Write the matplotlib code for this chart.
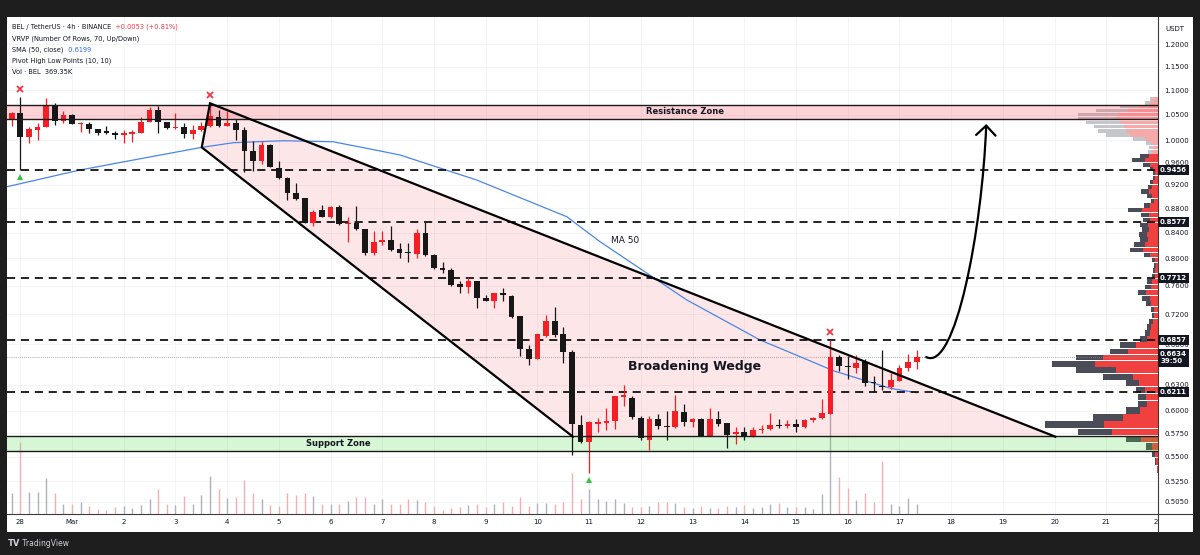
import numpy as np
import pandas as pd
import matplotlib
matplotlib.use("Agg")
import matplotlib.pyplot as plt
import matplotlib.ticker as mticker
from matplotlib import transforms
from matplotlib.patches import Rectangle, Polygon, FancyArrowPatch
from matplotlib.path import Path

W, H = 1200, 555

# BEL/USDT 4h candles, first bar opens 2025-02-27 20:00 (red = up, black = down)
opens = [1.040, 1.053, 1.007, 1.020, 1.026, 1.069, 1.037, 1.049, 1.031, 1.032,
         1.021, 1.016, 1.015, 1.011, 1.012, 1.015, 1.036, 1.059, 1.036, 1.023,
         1.026, 1.012, 1.019, 1.028, 1.045, 1.028, 1.034, 1.019, 0.981, 0.9624,
         0.9913, 0.950, 0.931, 0.905, 0.897, 0.855, 0.876, 0.865, 0.882, 0.854,
         0.855, 0.846, 0.808, 0.826, 0.829, 0.814, 0.809, 0.806, 0.840, 0.805,
         0.785, 0.782, 0.762, 0.758, 0.766, 0.743, 0.738, 0.750, 0.745, 0.717,
         0.674, 0.661, 0.691, 0.711, 0.694, 0.670, 0.584, 0.5657, 0.585, 0.586,
         0.588, 0.616, 0.614, 0.592, 0.568, 0.591, 0.583, 0.582, 0.598, 0.587,
         0.591, 0.572, 0.591, 0.586, 0.574, 0.576, 0.572, 0.578, 0.579, 0.584,
         0.583, 0.585, 0.582, 0.589, 0.592, 0.5965, 0.6645, 0.652, 0.650, 0.658,
         0.633, 0.629, 0.627, 0.635, 0.650, 0.658]
highs = [1.056, 1.0855, 1.026, 1.033, 1.083, 1.073, 1.058, 1.051, 1.036, 1.036,
         1.022, 1.028, 1.018, 1.020, 1.020, 1.045, 1.065, 1.067, 1.036, 1.054,
         1.033, 1.030, 1.036, 1.072, 1.059, 1.058, 1.041, 1.026, 0.998, 0.998,
         0.993, 0.962, 0.934, 0.922, 0.897, 0.877, 0.885, 0.883, 0.885, 0.866,
         0.884, 0.846, 0.842, 0.842, 0.850, 0.823, 0.823, 0.845, 0.8577, 0.806,
         0.795, 0.786, 0.766, 0.773, 0.767, 0.746, 0.750, 0.756, 0.746, 0.717,
         0.679, 0.694, 0.719, 0.730, 0.703, 0.673, 0.595, 0.588, 0.592, 0.603,
         0.6165, 0.630, 0.617, 0.594, 0.594, 0.596, 0.599, 0.618, 0.608, 0.592,
         0.592, 0.6025, 0.599, 0.586, 0.582, 0.582, 0.582, 0.584, 0.597, 0.591,
         0.589, 0.590, 0.590, 0.593, 0.613, 0.6857, 0.666, 0.665, 0.666, 0.662,
         0.640, 0.673, 0.644, 0.654, 0.668, 0.673]
lows = [1.028, 0.9456, 0.9945, 1.000, 1.025, 1.030, 1.033, 1.031, 1.017, 1.014,
        1.010, 1.012, 1.002, 0.9945, 0.997, 1.014, 1.035, 1.015, 1.022, 1.022,
        1.004, 1.002, 1.018, 1.026, 1.025, 1.027, 1.000, 0.9426, 0.943, 0.956,
        0.951, 0.930, 0.893, 0.8935, 0.855, 0.850, 0.865, 0.863, 0.853, 0.826,
        0.844, 0.805, 0.805, 0.820, 0.812, 0.800, 0.795, 0.800, 0.804, 0.784,
        0.778, 0.760, 0.750, 0.750, 0.728, 0.738, 0.729, 0.738, 0.715, 0.665,
        0.654, 0.661, 0.690, 0.690, 0.656, 0.552, 0.5645, 0.533, 0.576, 0.578,
        0.579, 0.605, 0.590, 0.567, 0.557, 0.579, 0.568, 0.581, 0.583, 0.582,
        0.572, 0.572, 0.583, 0.559, 0.563, 0.567, 0.571, 0.575, 0.578, 0.580,
        0.580, 0.5765, 0.581, 0.587, 0.590, 0.5965, 0.6465, 0.637, 0.644, 0.629,
        0.622, 0.624, 0.625, 0.634, 0.646, 0.649]
closes = [1.053, 1.007, 1.021, 1.025, 1.069, 1.037, 1.049, 1.032, 1.033, 1.021,
          1.015, 1.015, 1.011, 1.013, 1.017, 1.036, 1.059, 1.036, 1.023, 1.026,
          1.012, 1.020, 1.028, 1.047, 1.028, 1.033, 1.019, 0.9807, 0.9624, 0.9913,
          0.9515, 0.931, 0.905, 0.895, 0.855, 0.874, 0.866, 0.882, 0.854, 0.856,
          0.846, 0.808, 0.826, 0.828, 0.813, 0.808, 0.808, 0.839, 0.805, 0.785,
          0.782, 0.761, 0.758, 0.766, 0.743, 0.738, 0.750, 0.747, 0.716, 0.674,
          0.661, 0.694, 0.711, 0.692, 0.670, 0.585, 0.5653, 0.587, 0.587, 0.588,
          0.6165, 0.618, 0.593, 0.570, 0.591, 0.583, 0.582, 0.599, 0.587, 0.591,
          0.572, 0.590, 0.585, 0.573, 0.576, 0.572, 0.578, 0.579, 0.5835, 0.583,
          0.5845, 0.582, 0.589, 0.592, 0.597, 0.6645, 0.653, 0.651, 0.657, 0.632,
          0.632, 0.627, 0.636, 0.650, 0.658, 0.6634]
# volume in thousands of BEL
volumes_k = [786, 2657, 823, 815, 1317, 790, 370, 365, 432, 295,
             185, 148, 269, 300, 232, 332, 542, 911, 358, 350,
             664, 369, 690, 1413, 905, 579, 616, 1255, 764, 554,
             332, 295, 786, 701, 764, 664, 358, 369, 372, 480,
             638, 645, 369, 554, 358, 352, 542, 517, 443, 306,
             148, 221, 269, 332, 369, 269, 369, 443, 306, 638,
             295, 395, 395, 369, 443, 1502, 565, 911, 554, 491,
             542, 417, 247, 247, 295, 443, 443, 395, 269, 210,
             295, 210, 210, 306, 269, 332, 210, 269, 369, 395,
             247, 247, 247, 173, 738, 6421, 1376, 970, 517, 764,
             443, 1956, 358, 295, 579, 369.35]

# SMA(50, close) (days since Feb 28, price)
ma_days = [-0.257, 1.155, 2.186, 3.509, 4.120, 5.087, 6.048, 6.700, 7.344, 8.828,
           10.569, 11.213, 12.890, 14.308, 15.081, 15.720, 16.300, 16.822, 17.339]
ma_prices = [0.9162, 0.9456, 0.9636, 0.9870, 0.9957, 0.9994, 0.9975, 0.9852, 0.9728, 0.9278,
             0.8656, 0.8256, 0.7395, 0.6856, 0.6643, 0.6470, 0.6357, 0.6258, 0.6206]

# visible range volume profile, 70 rows, bottom to top (up = red, down = grey)
vp_low, vp_high = 0.533, 1.0855
vp_up = [1, 2, 3, 6, 17, 46, 54, 35, 18, 11, 12, 13, 19, 25, 42, 63, 55, 30, 22, 11,
         8, 7, 5, 4, 4, 7, 8, 12, 7, 6, 3, 3, 2, 3, 8, 15, 13, 10, 11, 9,
         10, 8, 9, 16, 8, 4, 6, 9, 6, 5, 3, 3, 5, 8, 13, 9, 6, 5, 7, 13,
         28, 32, 34, 38, 42, 40, 30, 20, 8, 5]
vp_down = [0, 1, 3, 6, 15, 34, 59, 30, 14, 9, 8, 9, 13, 30, 40, 43, 27, 18, 16, 7,
           5, 4, 4, 2, 3, 5, 8, 8, 6, 5, 3, 2, 2, 3, 6, 13, 11, 8, 8, 7,
           8, 7, 8, 14, 6, 3, 5, 8, 4, 3, 2, 2, 3, 7, 13, 9, 4, 4, 5, 12,
           24, 28, 30, 34, 38, 40, 32, 18, 5, 3]
value_area_rows = 56

# drawings
levels = [0.9456, 0.8577, 0.7712, 0.6857, 0.6211]
last_price = 0.6634
resistance = (1.0407, 1.0700)
support = (0.5558, 0.5715)
wedge_days = [20.013, 3.669, 3.509, 10.685]
wedge_prices = [0.5711, 1.0727, 0.9870, 0.5711]
arrow_days = [17.518, 18.079, 18.601, 18.679]
arrow_prices = [0.6639, 0.6453, 0.8441, 1.0315]
pivot_high_idx = [1, 23, 95]
pivot_low_idx = [1, 67]

price_ticks = [1.2, 1.15, 1.1, 1.05, 1.0, 0.96, 0.92, 0.88, 0.84, 0.80, 0.76, 0.72,
               0.68, 0.63, 0.60, 0.575, 0.55, 0.525, 0.505]
day_ticks = list(range(0, 22))
day_labels = ["28", "Mar"] + [str(d) for d in range(2, 22)]

opens, highs, lows, closes = map(np.array, (opens, highs, lows, closes))
volumes_k = np.array(volumes_k)
times = pd.date_range("2025-02-27 20:00", periods=len(opens), freq="4h")
x = ((times - pd.Timestamp("2025-02-28")) / pd.Timedelta(days=1)).to_numpy()

UP, DOWN = "#f31f24", "#171717"
INK = "#131722"


def fx(px):
    return px / W


def fy(py):
    return 1 - py / H


fig = plt.figure(figsize=(12, 5.55), dpi=100, facecolor="#1e1e1e")
fig.patches.append(Rectangle((fx(7), fy(532)), fx(1193) - fx(7), fy(17) - fy(532),
                             transform=fig.transFigure, facecolor="white",
                             edgecolor="none", zorder=-5))

ax = fig.add_axes([fx(7), fy(514), fx(1158) - fx(7), fy(17) - fy(514)])
ax.set_zorder(1)
ax.set_yscale("log")
ax.set_xlim(-0.257, 22.0)
ax.set_ylim(0.4934, 1.2629)
for s in ("top", "left"):
    ax.spines[s].set_visible(False)
for s in ("right", "bottom"):
    ax.spines[s].set_color("#3a3a3a")
    ax.spines[s].set_linewidth(0.8)

ax.yaxis.tick_right()
ax.yaxis.set_minor_locator(mticker.NullLocator())
ax.set_yticks(price_ticks)
ax.set_yticklabels([f"{p:.4f}" for p in price_ticks])
ax.set_xticks(day_ticks)
ax.set_xticklabels(day_labels)
ax.tick_params(axis="y", length=0, pad=4.5, labelsize=5, labelcolor=INK)
ax.tick_params(axis="x", length=0, pad=3.5, labelsize=5, labelcolor=INK)
ax.grid(color="#f1f2f5", lw=0.6, zorder=0.5)
ax.set_axisbelow(True)

x_data_y_axes = transforms.blended_transform_factory(ax.transData, ax.transAxes)
x_axes_y_data = transforms.blended_transform_factory(ax.transAxes, ax.transData)

# volume histogram at the bottom
vol_top = 18340
up = closes >= opens
vcols = np.where(up, "#aeb1b8", "#f5adb1")
ax.vlines(x, 0, volumes_k / vol_top, transform=x_data_y_axes, colors=vcols, lw=1.0, zorder=1)

# wedge fill
ax.add_patch(Polygon(np.column_stack([wedge_days, wedge_prices]), closed=True,
                     facecolor="#f23645", alpha=0.12, edgecolor="none", zorder=1.5))

# volume profile
edges = np.linspace(vp_low, vp_high, len(vp_up) + 1)
totals = np.array(vp_up) + np.array(vp_down)
scale = 0.0982 / totals.max()
for k in range(len(vp_up)):
    lo, hi = edges[k], edges[k + 1]
    h = hi - lo
    in_va = k < value_area_rows
    up_w, dn_w = vp_up[k] * scale, vp_down[k] * scale
    ax.add_patch(Rectangle((1 - up_w, lo + 0.06 * h), up_w, 0.88 * h, transform=x_axes_y_data,
                           facecolor="#f0403f" if in_va else "#f6a9a9", edgecolor="none", zorder=2))
    ax.add_patch(Rectangle((1 - up_w - dn_w, lo + 0.06 * h), dn_w, 0.88 * h, transform=x_axes_y_data,
                           facecolor="#4a4d57" if in_va else "#c4c6cc", edgecolor="none", zorder=2))

# zones
ax.axhspan(*resistance, facecolor="#f23645", alpha=0.22, lw=0, zorder=2.5)
ax.axhspan(*support, facecolor=(0.30, 0.85, 0.25), alpha=0.22, lw=0, zorder=2.5)
for p in resistance + support:
    ax.axhline(p, color="#1a1a1a", lw=1.0, zorder=5)

# SMA 50
ax.plot(ma_days, ma_prices, color="#4a86e8", lw=0.9, zorder=3)

# horizontal levels
for lv in levels:
    ax.axhline(lv, color="#111111", lw=1.3, ls=(0, (4.5, 3.2)), zorder=3.5)
ax.axhline(last_price, color="#8a8d96", lw=0.6, ls=(0, (1, 1.5)), zorder=3)

# candles
cols = np.where(up, UP, DOWN)
body_lo = np.minimum(opens, closes)
body_hi = np.maximum(np.maximum(opens, closes), body_lo * 1.0022)
ax.vlines(x, lows, highs, colors=cols, lw=0.9, zorder=4)
ax.bar(x, body_hi - body_lo, bottom=body_lo, width=0.11, color=cols, lw=0, zorder=4.1)

# wedge outline
ax.plot(wedge_days, wedge_prices, color="black", lw=1.6, zorder=5, solid_joinstyle="miter")

# pivot points
hi_off = transforms.offset_copy(ax.transData, fig=fig, x=0, y=6, units="points")
lo_off = transforms.offset_copy(ax.transData, fig=fig, x=0, y=-5, units="points")
ax.plot(x[pivot_high_idx], highs[pivot_high_idx], ls="none", marker="x", ms=3.8, mew=1.3,
        color="#f23645", transform=hi_off, zorder=6)
ax.plot(x[pivot_low_idx], lows[pivot_low_idx], ls="none", marker="^", ms=4.2, mew=0,
        color="#2fc43e", transform=lo_off, zorder=6)

# projection arrow
arrow_path = Path(np.column_stack([arrow_days, arrow_prices]),
                  [Path.MOVETO, Path.CURVE4, Path.CURVE4, Path.CURVE4])
ax.add_patch(FancyArrowPatch(path=arrow_path, arrowstyle="->,head_length=0.5,head_width=0.5",
                             mutation_scale=14, lw=1.6, color="black", zorder=6))

# labels on the chart
ax.text(12.857, 1.0553, "Resistance Zone", ha="center", va="center", fontsize=6,
        fontweight="bold", color=INK, zorder=7)
ax.text(6.143, 0.5636, "Support Zone", ha="center", va="center", fontsize=6,
        fontweight="bold", color=INK, zorder=7)
ax.text(13.044, 0.6527, "Broadening Wedge", ha="center", va="center", fontsize=9,
        fontweight="bold", color=INK, zorder=7)
ax.text(11.696, 0.8283, "MA 50", ha="center", va="center", fontsize=6.5, color=INK, zorder=7)

# price axis labels
for lv in levels:
    ax.text(1.0018, lv, f"{lv:.4f}", transform=x_axes_y_data, ha="left", va="center",
            color="white", fontsize=5, fontweight="bold", clip_on=False, zorder=10,
            bbox=dict(boxstyle="square,pad=0.3", fc=INK, ec="none"))
ax.annotate(f"{last_price:.4f}\n39:50", xy=(1.0018, last_price), xycoords=x_axes_y_data,
            xytext=(0, 4.5), textcoords="offset points", ha="left", va="top",
            color="white", fontsize=5, fontweight="bold", linespacing=1.25, zorder=10,
            annotation_clip=False, bbox=dict(boxstyle="square,pad=0.3", fc=INK, ec="none"))
fig.text(fx(1175), fy(29), "USDT", ha="center", va="center", fontsize=5, color=INK)
fig.text(fx(1158), fy(522), "2", ha="right", va="center", fontsize=5, color=INK)

# panel frame lines
fig.add_artist(plt.Line2D([fx(1158), fx(1193)], [fy(514), fy(514)], transform=fig.transFigure,
                          color="#3a3a3a", lw=0.8))
fig.add_artist(plt.Line2D([fx(1158), fx(1158)], [fy(514), fy(532)], transform=fig.transFigure,
                          color="#3a3a3a", lw=0.8))

# legend / header
hdr = dict(fontsize=4.8, color=INK, va="center", ha="left")
t1 = fig.text(fx(12), fy(27), "BEL / TetherUS · 4h · BINANCE", **hdr)
ax.annotate("  +0.0053 (+0.81%)", xy=(1, 0), xycoords=t1, va="bottom", ha="left",
            fontsize=4.8, color="#f23645", annotation_clip=False)
fig.text(fx(12), fy(38.5), "VRVP (Number Of Rows, 70, Up/Down)", **hdr)
t3 = fig.text(fx(12), fy(50), "SMA (50, close)", **hdr)
ax.annotate("  0.6199", xy=(1, 0), xycoords=t3, va="bottom", ha="left",
            fontsize=4.8, color="#2962ff", annotation_clip=False)
fig.text(fx(12), fy(61), "Pivot High Low Points (10, 10)", **hdr)
fig.text(fx(12), fy(72), "Vol · BEL  369.35K", **hdr)

# watermark
t_logo = fig.text(fx(8), fy(543), "TV", fontsize=6, fontweight="bold", color="#d1d4dc",
                  va="center", ha="left")
ax.annotate(" TradingView", xy=(1, 0), xycoords=t_logo, va="bottom", ha="left",
            fontsize=5.5, color="#d1d4dc", annotation_clip=False)

fig.savefig("out.png", dpi=100, facecolor=fig.get_facecolor())
